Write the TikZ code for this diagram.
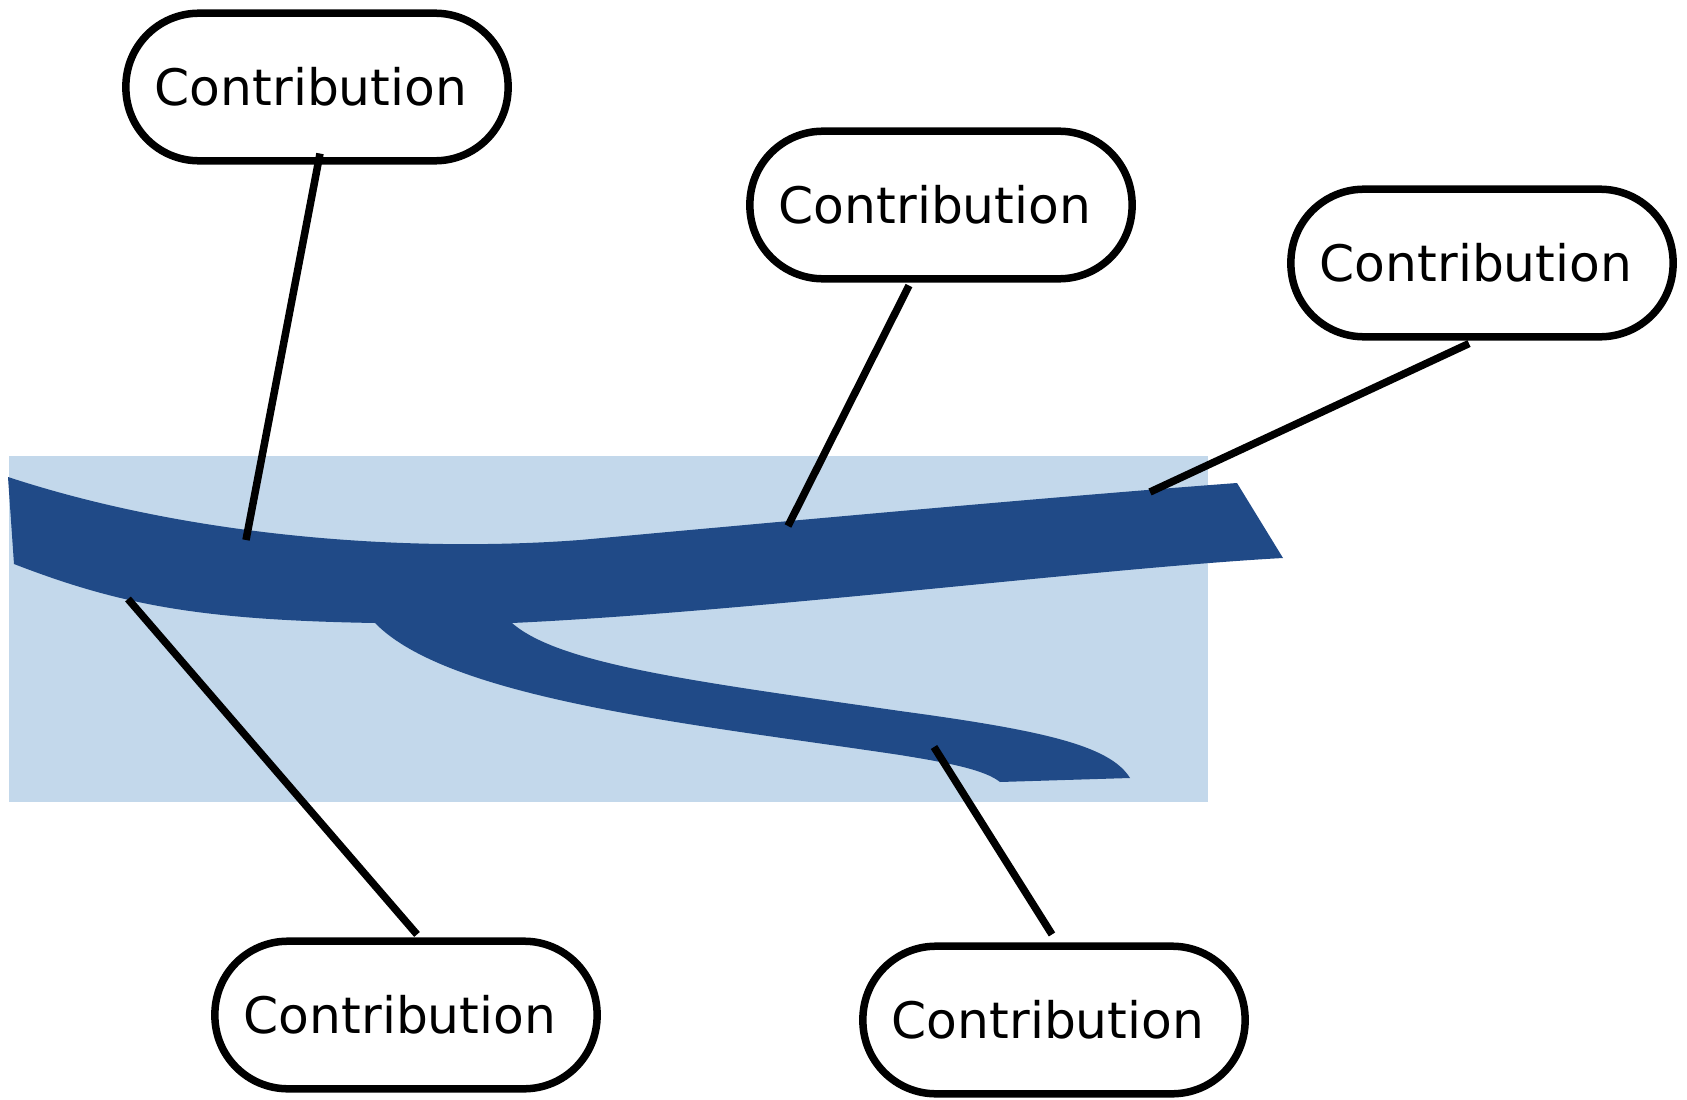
\documentclass[tikz,border=0pt]{standalone}
\usepackage{fontspec}
\setmainfont{DejaVu Sans}
\usetikzlibrary{calc}
\definecolor{riverDark}{HTML}{204A87}
\definecolor{riverLight}{HTML}{C3D8EB}

\begin{document}
\begin{tikzpicture}[x=0.01cm, y=-0.01cm]

\tikzset
  {
    contribBox/.style=  {draw, fill=white, line width=0.075cm, rounded corners=0.73cm,
                         minimum width=3.82cm, minimum height=1.475cm, inner sep=0pt,
                         font=\fontsize{14.3}{17}\selectfont},
    contribLine/.style= {line width=0.075cm}
  }

\useasboundingbox (0,0) rectangle (1687,1100);

% background
\fill[riverLight] (9,456) rectangle (1208,802);

% river
\fill[riverDark] (8,477) .. controls (200,540) and (420,552) .. (580,540)
  .. controls (800,520) and (1050,497) .. (1237,483)
  -- (1283,558)
  .. controls (1100,568) and (750,612) .. (512,623)
  .. controls (560,665) and (700,682) .. (900,711)
  .. controls (1040,730) and (1110,745) .. (1130,778)
  -- (1000,782)
  .. controls (985,770) and (950,763) .. (900,755)
  .. controls (700,725) and (450,700) .. (375,623)
  .. controls (200,620) and (120,605) .. (14,564)
  -- cycle;

% boxes
\node[contribBox] (b1) at (317,87) {\kern-0.12cm Contribution};
\node[contribBox] (b2) at (941,205) {\kern-0.12cm Contribution};
\node[contribBox] (b3) at (1482,263) {\kern-0.12cm Contribution};
\node[contribBox] (b4) at (406,1015) {\kern-0.12cm Contribution};
\node[contribBox] (b5) at (1054,1020) {\kern-0.12cm Contribution};

% points on the river
\coordinate (p1) at (246,540);
\coordinate (p2) at (788,526);
\coordinate (p3) at (1150,492);
\coordinate (p4) at (128,599);
\coordinate (p5) at (934,747);

% connectors
\draw[contribLine] ($(b1.south)+(3,-11)$) -- (p1);
\draw[contribLine] ($(b2.south)+(-32,3)$) -- (p2);
\draw[contribLine] ($(b3.south)+(-13,3)$) -- (p3);
\draw[contribLine] (p4) -- ($(b4.north)+(11,-3)$);
\draw[contribLine] (p5) -- ($(b5.north)+(-2,-8)$);

\end{tikzpicture}
\end{document}
